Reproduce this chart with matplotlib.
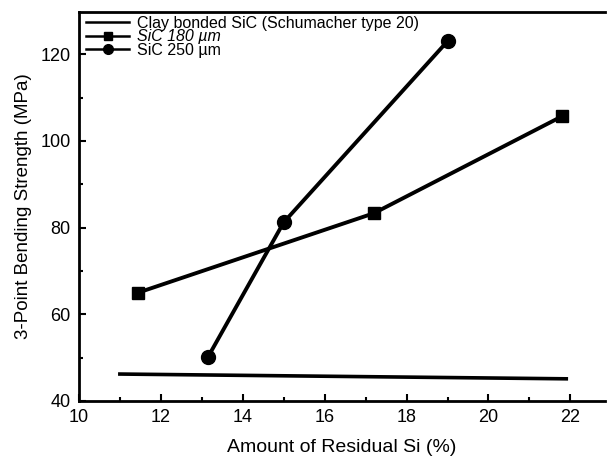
import matplotlib
matplotlib.use("Agg")
import matplotlib.pyplot as plt
from matplotlib.ticker import MultipleLocator

# values
clay_x = [11.0, 21.9]
clay_y = [46.2, 45.1]

sic180_x = [11.45, 17.2, 21.8]
sic180_y = [65.0, 83.3, 105.7]

sic250_x = [13.15, 15.0, 19.0]
sic250_y = [50.1, 81.2, 123.0]

labels = ["Clay bonded SiC (Schumacher type 20)", "SiC 180 \u00b5m", "SiC 250 \u00b5m"]

plt.rcParams["font.family"] = ["Liberation Sans", "DejaVu Sans"]

fig = plt.figure(figsize=(6.07, 4.70), dpi=100)
ax = fig.add_axes([0.130, 0.147, 0.867, 0.827])

ax.plot(clay_x, clay_y, color="black", lw=2.6, label=labels[0])
ax.plot(sic180_x, sic180_y, color="black", lw=2.8, marker="s", ms=9,
        label=labels[1])
ax.plot(sic250_x, sic250_y, color="black", lw=2.8, marker="o", ms=10,
        label=labels[2])

ax.set_xlim(10, 22.85)
ax.set_ylim(40, 129.7)
ax.xaxis.set_major_locator(MultipleLocator(2))
ax.xaxis.set_minor_locator(MultipleLocator(1))
ax.yaxis.set_major_locator(MultipleLocator(20))
ax.yaxis.set_minor_locator(MultipleLocator(10))
ax.tick_params(which="both", direction="in", top=False, right=False,
               labelsize=13, width=1.5)
ax.tick_params(which="major", length=5, pad=6)
ax.tick_params(which="minor", length=3)
for side in ["left", "bottom", "top"]:
    ax.spines[side].set_linewidth(2)
ax.spines["right"].set_visible(False)

ax.set_xlabel("Amount of Residual Si (%)", fontsize=14, labelpad=9)
ax.set_ylabel("3-Point Bending Strength (MPa)", fontsize=13.5, labelpad=6)

leg = ax.legend(loc="upper left", bbox_to_anchor=(0.0, 1.01), frameon=False,
                fontsize=11.5, handlelength=2.7, handletextpad=0.5,
                labelspacing=-0.08, borderaxespad=0.3, borderpad=0.15,
                markerscale=0.7)
for line in leg.get_lines():
    line.set_linewidth(1.8)
leg.get_texts()[1].set_fontstyle("italic")

fig.savefig("out.png", dpi=100)
